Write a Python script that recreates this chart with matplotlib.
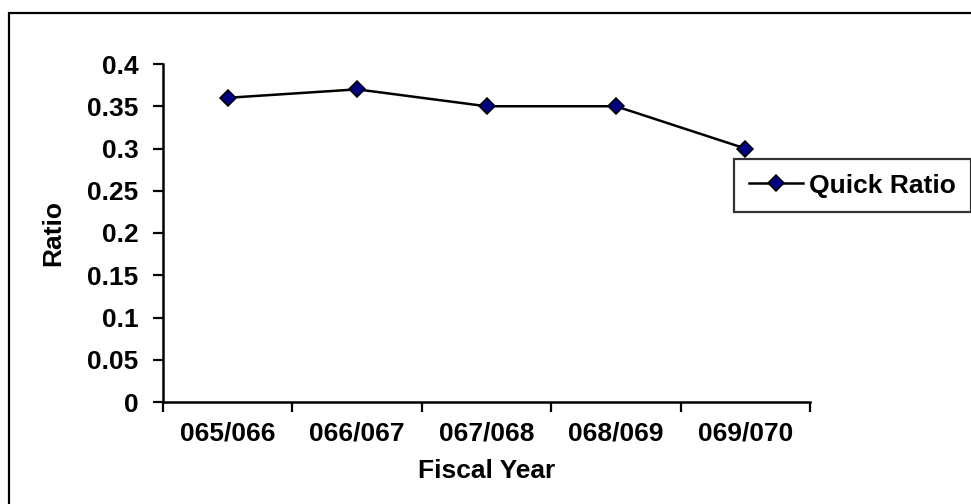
import matplotlib.pyplot as plt
from matplotlib.patches import Rectangle
from matplotlib.ticker import FormatStrFormatter, FixedLocator, NullFormatter

plt.rc('font', family=['Liberation Sans', 'DejaVu Sans'], weight='bold')

years = ['065/066', '066/067', '067/068', '068/069', '069/070']
quick_ratio = [0.36, 0.37, 0.35, 0.35, 0.30]
y_ticks = [0, 0.05, 0.1, 0.15, 0.2, 0.25, 0.3, 0.35, 0.4]

fontsize = 19

fig = plt.figure(figsize=(9.71, 5.04), dpi=100)
ax = fig.add_axes([163 / 971, 1 - 402 / 504, (810 - 163) / 971, (402 - 64) / 504])

# chart area border, runs off the right and bottom edges
fig.patches.append(Rectangle((9 / 971, -0.05), 1.1, 1 - 13 / 504 + 0.05,
                             transform=fig.transFigure, fill=False,
                             edgecolor='black', linewidth=1.6, zorder=0))

x = [i + 0.5 for i in range(len(years))]
ax.plot(x, quick_ratio, color='black', linewidth=1.8, marker='D',
        markersize=8, markerfacecolor='#000080', markeredgecolor='black',
        markeredgewidth=1.1, label='Quick Ratio', clip_on=False)

ax.set_xlim(0, len(years))
ax.set_ylim(0, 0.4)

# category boundaries get tick marks, labels sit between them
ax.xaxis.set_major_locator(FixedLocator(range(len(years) + 1)))
ax.xaxis.set_major_formatter(NullFormatter())
ax.xaxis.set_minor_locator(FixedLocator(x))
ax.set_xticklabels(years, minor=True)
ax.tick_params(axis='x', which='major', direction='out', length=7.5, width=1.6)
ax.tick_params(axis='x', which='minor', length=0, pad=14, labelsize=fontsize)

ax.set_yticks(y_ticks)
ax.yaxis.set_major_formatter(FormatStrFormatter('%g'))
ax.tick_params(axis='y', direction='out', length=7.5, width=1.6, pad=10,
               labelsize=fontsize)

for side in ['top', 'right']:
    ax.spines[side].set_visible(False)
for side in ['left', 'bottom']:
    ax.spines[side].set_linewidth(1.8)

ax.set_xlabel('Fiscal Year', fontsize=fontsize, fontweight='bold', labelpad=10)
ax.set_ylabel('Ratio', fontsize=fontsize, fontweight='bold', labelpad=16)

leg = fig.legend(loc='center left', bbox_to_anchor=(734 / 971, 1 - 185.5 / 504),
                 borderaxespad=0, fontsize=fontsize, frameon=True, fancybox=False,
                 handlelength=2.05, handletextpad=0.25, borderpad=0.55)
leg.get_frame().set_edgecolor('black')
leg.get_frame().set_linewidth(1.6)

fig.savefig('out.png', dpi=100)
